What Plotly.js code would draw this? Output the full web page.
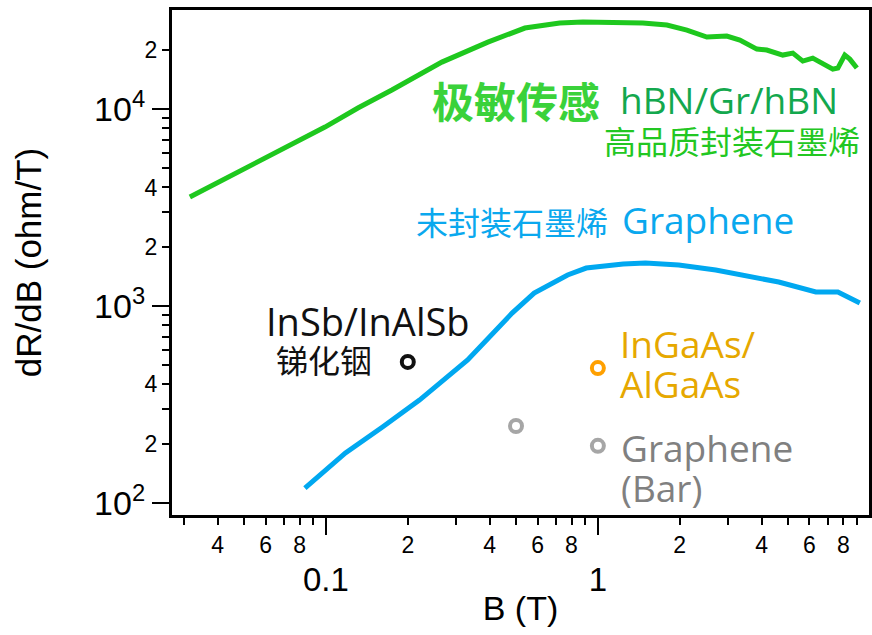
<!DOCTYPE html>
<html>
<head>
<meta charset="utf-8">
<script src="https://cdn.plot.ly/plotly-3.0.1.min.js"></script>
<style>html,body{margin:0;padding:0;background:#fff;}#chart{width:872px;height:635px;}</style>
</head>
<body>
<div id="chart"></div>
<script>
// Encapsulated hBN/Gr/hBN graphene
const greenB = [0.0316,0.0491,0.075,0.0992,0.1311,0.1748,0.2669,0.394,0.539,0.724,0.881,1.175,1.463,1.794,2.125,2.516,2.979,3.327,3.842,4.18,4.786,5.21,5.67,6.17,6.72,7.31,7.63,8.09,8.44,8.96];
const greenR = [3577,4903,6566,8103,10120,12490,17320,21880,25780,27320,27640,27640,27320,26700,25180,23210,23480,22400,20160,19930,18800,19240,17520,18150,17120,15960,16150,18800,17940,16150];
// Unencapsulated graphene
const blueB = [0.0837,0.118,0.1615,0.2208,0.332,0.388,0.4837,0.583,0.774,0.906,1.239,1.496,1.983,2.713,3.715,4.624,6.33,7.63,9.19];
const blueR = [119,179.5,243,333,532,672,921,1164,1437,1559,1634,1653,1614,1523,1403,1324,1178,1178,1036];
// Single reference points
const insbB = [0.2], insbR = [520];
const ingaasB = [1.0], ingaasR = [484];
const grBarB = [0.5, 1.0], grBarR = [246, 195];

// Tick definitions
const xMajorVals = [0.1, 1];
const xMajorText = ["0.1", "1"];
const xMinorVals = [0.03,0.04,0.05,0.06,0.07,0.08,0.09,0.2,0.3,0.4,0.5,0.6,0.7,0.8,0.9,2,3,4,5,6,7,8,9];
const xMinorText = ["","4","","6","","8","","2","","4","","6","","8","","2","","4","","6","","8",""];
const yMajorVals = [100, 1000, 10000];
const yMajorText = ["10<sup>2</sup>", "10<sup>3</sup>", "10<sup>4</sup>"];
const yMinorVals = [200,300,400,500,600,700,800,900,2000,3000,4000,5000,6000,7000,8000,9000,20000];
const yMinorText = ["2","","4","","","","","","2","","4","","","","","","2"];

const xr = [-1.566, 0.997];
const yr = [1.939, 4.503];
const axFont = "Liberation Sans, Arial, sans-serif";
const latin = "Open Sans, sans-serif";
const cjk = "Noto Sans CJK SC, sans-serif";

const traces = [
  {x: greenB, y: greenR, mode: 'lines', line: {color: '#1ec81e', width: 5}, xaxis: 'x', yaxis: 'y'},
  {x: blueB, y: blueR, mode: 'lines', line: {color: '#00a8f0', width: 5}, xaxis: 'x', yaxis: 'y'},
  {x: insbB, y: insbR, mode: 'markers', marker: {symbol: 'circle-open', size: 12, color: '#111', line: {width: 4, color: '#111'}}},
  {x: ingaasB, y: ingaasR, mode: 'markers', marker: {symbol: 'circle-open', size: 12, color: '#ffa000', line: {width: 4, color: '#ffa000'}}},
  {x: grBarB, y: grBarR, mode: 'markers', marker: {symbol: 'circle-open', size: 12, color: '#a6a6a6', line: {width: 4, color: '#a6a6a6'}}}
];

function ann(text, xp, yp, size, color, family, bold) {
  return {text: bold ? '<b>' + text + '</b>' : text, xref: 'paper', yref: 'paper',
    x: (xp - 172) / 697, y: 1 - (yp - 10) / 505, xanchor: 'left', yanchor: 'middle',
    showarrow: false, font: {size: size, color: color, family: family}};
}

const layout = {
  width: 872, height: 635,
  margin: {l: 172, r: 3, t: 10, b: 120},
  paper_bgcolor: '#fff', plot_bgcolor: '#fff',
  showlegend: false,
  xaxis: {type: 'log', range: xr, showgrid: false, zeroline: false,
    showline: true, mirror: true, linecolor: '#000', linewidth: 3,
    tickmode: 'array', tickvals: xMajorVals, ticktext: xMajorText,
    ticks: 'outside', ticklen: 17, tickwidth: 2, tickcolor: '#000',
    ticklabelstandoff: 16,
    tickfont: {family: axFont, size: 33, color: '#000'},
    title: {text: 'B (T)', font: {family: axFont, size: 34, color: '#000'}, standoff: 0}},
  xaxis2: {type: 'log', range: xr, overlaying: 'x', anchor: 'y', side: 'bottom',
    showgrid: false, zeroline: false, showline: false,
    tickmode: 'array', tickvals: xMinorVals, ticktext: xMinorText,
    ticks: 'outside', ticklen: 9, tickwidth: 2, tickcolor: '#000',
    tickfont: {family: axFont, size: 23, color: '#000'}},
  yaxis: {type: 'log', range: yr, showgrid: false, zeroline: false,
    showline: true, mirror: true, linecolor: '#000', linewidth: 3,
    tickmode: 'array', tickvals: yMajorVals, ticktext: yMajorText,
    ticks: 'outside', ticklen: 17, tickwidth: 2, tickcolor: '#000',
    tickfont: {family: axFont, size: 34, color: '#000'},
    title: {text: 'dR/dB (ohm/T)', font: {family: axFont, size: 35, color: '#000'}, standoff: 42}},
  yaxis2: {type: 'log', range: yr, overlaying: 'y', anchor: 'x', side: 'left',
    showgrid: false, zeroline: false, showline: false,
    tickmode: 'array', tickvals: yMinorVals, ticktext: yMinorText,
    ticks: 'outside', ticklen: 9, tickwidth: 2, tickcolor: '#000',
    tickfont: {family: axFont, size: 23, color: '#000'}},
  annotations: [
    ann('极敏传感', 430, 100, 42, '#3ad23a', cjk, true),
    ann('hBN/Gr/hBN', 618, 100, 37, '#13a84e', latin, false),
    ann('高品质封装石墨烯', 602, 140, 32, '#22c722', cjk, false),
    ann('未封装石墨烯', 414, 221, 32, '#0aa8ee', cjk, false),
    ann('Graphene', 620, 220, 37, '#0aa8ee', latin, false),
    ann('InSb/InAlSb', 264, 321, 38, '#111', latin, false),
    ann('锑化铟', 274, 359, 32, '#111', cjk, false),
    ann('InGaAs/', 618, 343, 37, '#e6a800', latin, false),
    ann('AlGaAs', 618, 383, 37, '#e6a800', latin, false),
    ann('Graphene', 619, 447, 37, '#808080', latin, false),
    ann('(Bar)', 619, 487, 37, '#808080', latin, false)
  ]
};

traces.push({x: [1], y: [1000], xaxis: 'x2', yaxis: 'y2', mode: 'markers', marker: {opacity: 0}, hoverinfo: 'skip'});

Plotly.newPlot('chart', traces, layout, {displayModeBar: false, staticPlot: true});
</script>
</body>
</html>
